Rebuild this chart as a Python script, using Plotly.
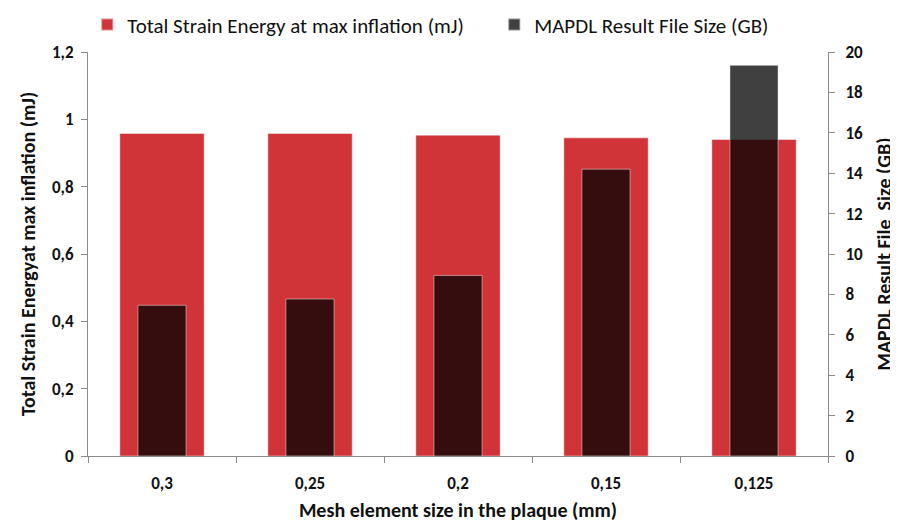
import plotly.graph_objects as go

categories = ["0,3", "0,25", "0,2", "0,15", "0,125"]
strain_energy = [0.958, 0.958, 0.953, 0.945, 0.940]
file_size = [7.46, 7.77, 8.94, 14.2, 19.34]

FONT = "Carlito, Calibri, Lato, 'Open Sans', sans-serif"
AXIS_COLOR = "#8c8c8c"
TXT = "#111"

fig = go.Figure()
fig.add_trace(go.Bar(
    x=categories, y=strain_energy, name="Total Strain Energy at max inflation (mJ)",
    marker=dict(color="#d13438", line=dict(color="rgba(255,255,255,0.45)", width=1)),
    width=0.57, yaxis="y",
))
fig.add_trace(go.Bar(
    x=categories, y=file_size, name="MAPDL Result File Size (GB)",
    marker=dict(color="rgba(0,0,0,0.75)", line=dict(color="rgba(255,255,255,0.45)", width=1)),
    width=0.325, yaxis="y2",
))

tickfont = dict(family=FONT, size=17, color=TXT, weight="bold")

# page body has an 8px margin; figure sized so the plot area lands at x 88-828, y 52-456
fig.update_layout(
    width=890, height=519,
    margin=dict(l=80, r=70, t=44, b=71, autoexpand=False),
    paper_bgcolor="white", plot_bgcolor="white",
    barmode="overlay",
    separators=", ",
    font=dict(family=FONT, size=14, color=TXT),
    showlegend=True,
    legend=dict(
        orientation="h", x=-0.001, y=1.067, xanchor="left", yanchor="middle",
        font=dict(family=FONT, size=21, color=TXT),
        entrywidth=362, entrywidthmode="pixels",
        itemsizing="constant", bgcolor="rgba(0,0,0,0)",
    ),
    xaxis=dict(
        type="category", showline=True, linecolor=AXIS_COLOR, linewidth=1,
        ticks="outside", tickson="boundaries", ticklen=6, tickcolor=AXIS_COLOR,
        tickfont=tickfont, ticklabelstandoff=12,
        title=dict(text="<b>Mesh element size in the plaque (mm)</b>",
                   font=dict(family=FONT, size=20, color=TXT), standoff=9),
        showgrid=False, zeroline=False,
    ),
    yaxis=dict(
        range=[0, 1.2], dtick=0.2, showline=True, linecolor=AXIS_COLOR, linewidth=1,
        ticks="outside", ticklen=6, tickcolor=AXIS_COLOR,
        tickfont=tickfont, ticklabelstandoff=4,
        showgrid=False, zeroline=False,
        title=dict(text="<b>Total Strain Energyat max inflation (mJ)</b>",
                   font=dict(family=FONT, size=20, color=TXT), standoff=10),
    ),
    yaxis2=dict(
        range=[0, 20], dtick=2, overlaying="y", side="right",
        showline=True, linecolor=AXIS_COLOR, linewidth=1,
        ticks="outside", ticklen=6, tickcolor=AXIS_COLOR,
        tickfont=tickfont, ticklabelstandoff=7,
        showgrid=False, zeroline=False,
        title=dict(text="<b>MAPDL Result File  Size (GB)</b>",
                   font=dict(family=FONT, size=20, color=TXT), standoff=14),
    ),
)

fig.write_html("out.html")
